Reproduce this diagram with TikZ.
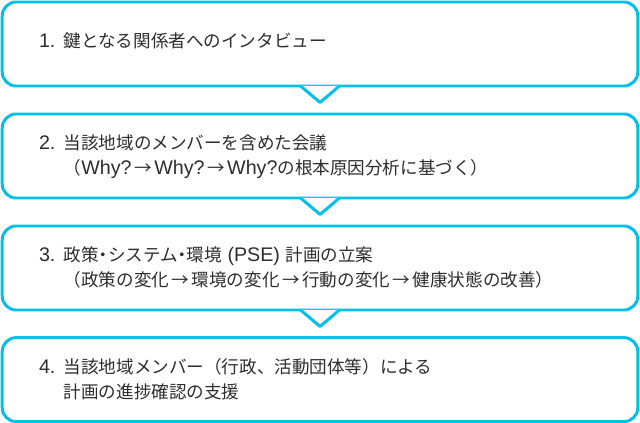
\documentclass[tikz,border=0pt]{standalone}
\usepackage{fontspec}
\setmainfont{Noto Sans CJK JP}
\newfontfamily\latinfont{Liberation Sans}[Scale=1.12]
\usetikzlibrary{calc}
\definecolor{frameblue}{RGB}{0,192,232}
\definecolor{inkgray}{RGB}{45,45,45}
\newcommand\toarr{\kern1.8pt→\kern1.8pt}
\newcommand\midot{\kern-3pt・\kern-3pt}

\begin{document}
\begin{tikzpicture}[
  panel/.style    = {draw=frameblue, line width=2.1pt, rounded corners=0.35cm,
                     minimum width=15.89cm, minimum height=2.1cm, inner sep=0pt},
  notch/.style    = {draw=frameblue, line width=2.1pt, line join=round, fill=white},
  steptext/.style = {anchor=west, inner sep=0pt, text=inkgray, align=left,
                     font=\fontsize{12.5}{17.8}\selectfont},
]
\useasboundingbox (0,0) rectangle (16,-10.575);

% --- frames -------------------------------------------------------------
\node[panel] (p1) at (8,-1.1)   {};
\node[panel] (p2) at (8,-3.9)   {};
\node[panel] (p3) at (8,-6.7)   {};
\node[panel] (p4) at (8,-9.49)  {};

% --- notches under frames 1-3 --------------------------------------------
\path[notch] ($(p1.south)+(-0.49,0.04)$) -- ($(p1.south)+(0,-0.375)$) -- ($(p1.south)+(0.49,0.04)$);
\path[notch] ($(p2.south)+(-0.49,0.04)$) -- ($(p2.south)+(0,-0.375)$) -- ($(p2.south)+(0.49,0.04)$);
\path[notch] ($(p3.south)+(-0.49,0.04)$) -- ($(p3.south)+(0,-0.375)$) -- ($(p3.south)+(0.49,0.04)$);

% --- texts --------------------------------------------------------------
\node[steptext] (t1) at ($(p1.west)+(0.95,0.03)$) {%
  \begin{tabular}{@{}p{17.6pt}@{}l@{}}
    {\latinfont 1.} & 鍵となる関係者へのインタビュー
  \end{tabular}};

\node[steptext] (t2) at ($(p2.west)+(0.95,-0.03)$) {%
  \begin{tabular}{@{}p{17.6pt}@{}l@{}}
    {\latinfont 2.} & 当該地域のメンバーを含めた会議\\
       & （{\latinfont Why?}\toarr{\latinfont Why?}\toarr{\latinfont Why?}の根本原因分析に基づく）
  \end{tabular}};

\node[steptext] (t3) at ($(p3.west)+(0.95,-0.03)$) {%
  \begin{tabular}{@{}p{17.6pt}@{}l@{}}
    {\latinfont 3.} & 政策\midot システム\midot 環境{\latinfont\ (PSE)\ }計画の立案\\
       & （政策の変化\toarr 環境の変化\toarr 行動の変化\toarr 健康状態の改善）
  \end{tabular}};

\node[steptext] (t4) at ($(p4.west)+(0.95,-0.03)$) {%
  \begin{tabular}{@{}p{17.6pt}@{}l@{}}
    {\latinfont 4.} & 当該地域メンバー（行政、活動団体等）による\\
       & 計画の進捗確認の支援
  \end{tabular}};

\end{tikzpicture}
\end{document}
